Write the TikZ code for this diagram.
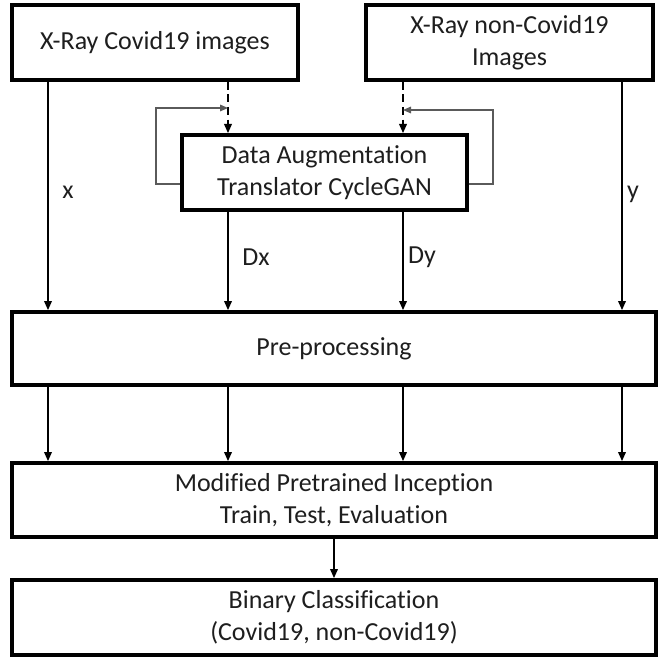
\documentclass[tikz,border=0pt]{standalone}
\usepackage{fontspec}
\setmainfont{Carlito}[Ligatures=NoCommon]
\definecolor{boxline}{RGB}{0,0,0}
\definecolor{loopgray}{RGB}{90,90,90}
\definecolor{textdark}{RGB}{30,30,30}
\usetikzlibrary{calc,positioning,arrows.meta}

\begin{document}
\begin{tikzpicture}[x=0.75pt, y=-0.75pt,
    block/.style={draw=boxline, line width=2.5pt, fill=white, align=center,
        inner sep=0pt, text=textdark, font=\fontsize{19.5}{24}\selectfont},
    flow/.style={-{Triangle[length=7pt,width=5.5pt]}, line width=1.8pt},
    dashflow/.style={flow, dash pattern=on 6pt off 3.5pt},
    feedback/.style={-{Triangle[length=6pt,width=5pt]}, draw=loopgray, line width=0.8pt},
    lbl/.style={text=textdark, font=\fontsize{19.5}{24}\selectfont}]
    % 画布大小(与参考图一致)
    \useasboundingbox (0,0) rectangle (666,659);
    % 四条竖直通道的横坐标
    \coordinate (c1) at (48,0);
    \coordinate (c2) at (228,0);
    \coordinate (c3) at (403,0);
    \coordinate (c4) at (622,0);
    % 反馈回路的拐角
    \coordinate (loopl) at (156,108);
    \coordinate (loopr) at (493,110);
    % 输入:两类 X-Ray 图像
    \node[block, minimum width=214.5pt, minimum height=56.25pt] (covid) at (155,42.5)
        {X-Ray Covid19 images};
    \node[block, minimum width=215.25pt, minimum height=56.25pt] (noncovid) at (509.5,42.5)
        {X-Ray non-Covid19\\Images};
    % 数据增强 CycleGAN
    \node[block, minimum width=213.75pt, minimum height=56.25pt] (augment) at (324.5,172.5)
        {Data Augmentation\\Translator CycleGAN};
    % 预处理、模型、分类
    \node[block, minimum width=483pt, minimum height=54.75pt] (prep) at (334,348.5)
        {Pre-processing};
    \node[block, minimum width=483pt, minimum height=55.5pt] (model) at (334,500)
        {Modified Pretrained Inception\\Train, Test, Evaluation};
    \node[block, minimum width=483pt, minimum height=56.25pt] (binary) at (334,617.5)
        {Binary Classification\\(Covid19, non-Covid19)};
    % 输入到增强(虚线)
    \draw[dashflow] (covid.south -| c2) -- (augment.north -| c2);
    \draw[dashflow] (noncovid.south -| c3) -- (augment.north -| c3);
    % 反馈回路(细灰线)
    \draw[feedback] ($(augment.west)+(0,11.5)$) -| (loopl) -- (loopl -| c2);
    \draw[feedback] ($(augment.east)+(0,11.5)$) -| (loopr) -- (loopr -| c3);
    % 进入预处理
    \draw[flow] (covid.south -| c1) -- (prep.north -| c1);
    \draw[flow] (augment.south -| c2) -- (prep.north -| c2);
    \draw[flow] (augment.south -| c3) -- (prep.north -| c3);
    \draw[flow] (noncovid.south -| c4) -- (prep.north -| c4);
    % 通道标签
    \node[lbl] (xlbl) at (68,192) {x};
    \node[lbl] (dxlbl) at (256,257) {Dx};
    \node[lbl] (dylbl) at (422,257) {Dy};
    \node[lbl] (ylbl) at (633,194) {y};
    % 预处理到模型
    \foreach \c in {c1,c2,c3,c4}
        \draw[flow] (prep.south -| \c) -- (model.north -| \c);
    % 模型到分类
    \draw[flow] (model) -- (binary);
\end{tikzpicture}
\end{document}
